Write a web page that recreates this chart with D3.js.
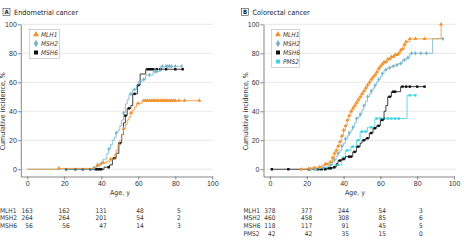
<!DOCTYPE html>
<html><head><meta charset="utf-8">
<script src="https://cdn.jsdelivr.net/npm/d3@7"></script>
<style>
body{margin:0;background:#fff;}
svg{display:block;font-family:"Liberation Sans Narrow","Arial Narrow","DejaVu Sans Condensed",sans-serif;}
</style></head><body>
<svg id="c" width="468" height="241"></svg>
<script>
// ---------- DATA ----------
const ageTicks = [0,20,40,60,80,100];
const pctTicks = [0,20,40,60,80,100];
const riskAges = [0,20,40,60,80];

// Panel A: Endometrial cancer
const endoGenes = ["MLH1","MSH2","MSH6"];
const endoMLH1 = [[0,0],[17,0.6],[36,1.5],[38,3],[40,4.5],[43,5.5],[45,7],[47,10],[48,13],[49,17],[50,20],[51,24],[52,28],[53,31],[54,34],[55,36],[56,39],[57,41],[58,43],[59,45.5],[62,47.3],[93,47.3]];
const endoMLH1Cens = [17,38,41,45,52,56,60,63,64,65,66,67,68,69,70,71,72,73,74,75,76,77,78,79,80,82,85,93];
const endoMSH2 = [[0,0],[35,0.8],[37,2],[39,4],[41,7],[43,11],[44,14],[45,17],[46,20],[47,22],[48,25],[49,27],[50,30],[51,34],[52,39],[53,45],[54,48],[55,52],[57,55],[59,58],[60,60.4],[62,62],[64,65],[68,67.5],[72,71],[83.5,71]];
const endoMSH2Cens = [36,40,44,48,52,56,58,61,63,66,69,70,73,75,76,77,78,80,83.5];
const endoMSH6 = [[21,0],[41.5,1.4],[44.5,3],[46,7.6],[48,11],[49.5,18],[51,24],[52,32],[53,37],[54,42],[56,44],[57,52],[59.5,58],[61,65.7],[64,69],[84,69]];
const endoMSH6Cens = [21,26,30,34,37,38,39,40,44,47,50,53,55,58,60,65,66,67,68,70,72,75,80,84];
const endoRiskMLH1 = [163,162,131,48,5];
const endoRiskMSH2 = [264,264,201,54,2];
const endoRiskMSH6 = [56,56,47,14,3];

// Panel B: Colorectal cancer
const crcGenes = ["MLH1","MSH2","MSH6","PMS2"];
const crcMLH1 = [[17,0],[20,0.5],[22,1],[25,1.5],[28,2.5],[30,3.5],[32,5],[34,8],[35,11],[36,13],[37,16],[38,19],[39,23],[40,27],[41,30],[42,34],[43,37],[44,40],[45,42],[46,44],[47,46],[48,48],[49,50],[50,52],[51,54],[52,56],[53,58],[54,60],[55,62],[56,63.5],[57,65],[58,67],[59,69.5],[60,71],[61,72.5],[62,74],[64,76],[66,77.5],[68,79],[70,80],[71,82],[72,83],[73,86],[74,88],[76,90],[93,100],[93,100]];
const crcMLH1Cens = [17,21,24,27,30,31,33,34,35,36,37,38,39,40,41,42,43,44,45,46,47,48,49,50,51,52,53,54,55,56,57,58,59,60,61,62,63,64,65,66,67,68,69,70,71,72,73,74,76,79,84,93];
const crcMSH2 = [[22,0],[26,0.5],[28,1],[30,1.5],[32,3],[34,5],[35,6.5],[36,9],[37,11],[38,13],[39,16],[40,18],[41,21],[42,23],[43,25],[44,27],[45,29],[46,32],[47,35],[48,36],[49,38],[50,41],[51,44],[52,47],[53,50],[54,52],[55,54],[56,56],[57,58],[58,60.4],[59,62],[60,64],[61,66],[62,68.7],[64,70],[66,71],[68,72],[70,73],[72,75.4],[74,77],[76,80],[88.4,90],[94,90]];
const crcMSH2Cens = [22,25,29,33,35,37,39,41,43,45,47,49,51,53,55,57,59,61,63,65,67,69,71,73,75,77,79,82,85,94];
const crcMSH6 = [[1,0],[31,0.7],[34,1.4],[36,4],[37,6],[39,7],[41,8.7],[45,12],[47,15.6],[49,18],[50,20],[52,21.4],[54,25],[56,28.3],[58,30],[60,34],[62,40],[63,44],[64,50],[66,53.5],[71,57],[84,57]];
const crcMSH6Cens = [1,10,21,26,28,30,32,33,35,38,40,43,44,46,48,51,53,55,57,59,61,65,67,68,72,74,76,80,84];
const crcPMS2 = [[23,0],[29,0.7],[35,3],[39,8],[41,13],[44,15.6],[47,20],[49,26],[53,29],[57,35],[74.5,51],[79,51]];
const crcPMS2Cens = [24,27,30,33,37,40,42,45,48,50,52,55,58,60,62,64,66,68,70,76,79];
const crcRiskMLH1 = [378,377,244,54,3];
const crcRiskMSH2 = [460,458,308,85,6];
const crcRiskMSH6 = [118,117,91,45,5];
const crcRiskPMS2 = [42,42,35,15,0];

// ---------- STYLE ----------
const colors = {MLH1:"#F0922E", MSH2:"#74B4C6", MSH6:"#111111", PMS2:"#3FD2E0"};
const symbols = {MLH1:d3.symbolTriangle, MSH2:d3.symbolDiamond, MSH6:d3.symbolSquare, PMS2:d3.symbolSquare};

const svg = d3.select("#c");

function valueAt(steps, age){
  let v = steps[0][1];
  for (const s of steps){ if (s[0] <= age) v = s[1]; else break; }
  return v;
}

function panel(opt){
  const g = svg.append("g");
  const x = d3.scaleLinear().domain([-3.5,100]).range([opt.x0, opt.x1]);
  const y = d3.scaleLinear().domain([-5,100]).range([176.5, 24.3]);
  // gridlines
  g.append("g").selectAll("line").data(pctTicks).join("line")
    .attr("x1", opt.x0).attr("x2", opt.gridEnd)
    .attr("y1", d=>y(d)).attr("y2", d=>y(d))
    .attr("stroke","#d6d6d6").attr("stroke-width",0.6);
  // axes
  const ax = g.append("g").attr("transform",`translate(0,${y(-5)})`)
    .call(d3.axisBottom(x).tickValues(ageTicks).tickSize(3).tickSizeOuter(0));
  const ay = g.append("g").attr("transform",`translate(${opt.x0},0)`)
    .call(d3.axisLeft(y).tickValues(pctTicks).tickSize(3).tickSizeOuter(0));
  [ax,ay].forEach(a=>{
    a.select(".domain").attr("stroke","#555").attr("stroke-width",0.7);
    a.selectAll(".tick line").attr("stroke","#555").attr("stroke-width",0.7);
    a.selectAll(".tick text").attr("fill","#333").attr("font-size",7).attr("font-family",null);
  });
  ax.selectAll(".tick text").attr("dy","0.9em").attr("y",3);
  ay.selectAll(".tick text").attr("x",-4);
  // axis titles
  g.append("text").attr("x",opt.ageX).attr("y",195).attr("text-anchor","middle")
    .attr("font-size",7).attr("fill","#333").text("Age, y");
  g.append("text").attr("transform",`translate(${opt.ylabX},${y(40)}) rotate(-90)`)
    .attr("text-anchor","middle").attr("font-size",7).attr("fill","#333")
    .text("Cumulative incidence, %");
  // panel title
  g.append("rect").attr("x",opt.boxX).attr("y",8.5).attr("width",7).attr("height",7)
    .attr("fill","#fff").attr("stroke","#444").attr("stroke-width",0.6);
  g.append("text").attr("x",opt.boxX+3.5).attr("y",14.3).attr("text-anchor","middle")
    .attr("font-size",6).attr("font-weight","bold").attr("fill","#222").text(opt.letter);
  g.append("text").attr("x",opt.boxX+11).attr("y",14.5).attr("font-size",7.3).attr("fill","#222").text(opt.title);
  // curves
  const line = d3.line().x(d=>x(d[0])).y(d=>y(d[1])).curve(d3.curveStepAfter);
  opt.series.slice().reverse().forEach(s=>{
    g.append("path").datum(s.steps).attr("d",line).attr("fill","none")
      .attr("stroke",colors[s.gene]).attr("stroke-width",0.8);
    g.append("g").selectAll("path").data(s.cens).join("path")
      .attr("transform",a=>`translate(${x(a)},${y(valueAt(s.steps,a))})`)
      .attr("d",d3.symbol().type(symbols[s.gene]).size(s.gene==="MLH1"?7:6))
      .attr("fill",colors[s.gene]);
  });
  // legend
  const n = opt.series.length;
  const lg = g.append("g");
  lg.append("rect").attr("x",opt.legX).attr("y",29.5).attr("width",opt.legW).attr("height",9*n+2)
    .attr("fill","#fff").attr("stroke","#aaa").attr("stroke-width",0.5);
  opt.series.forEach((s,i)=>{
    const yy = 34.5 + i*9;
    lg.append("path").attr("transform",`translate(${opt.legX+6.5},${yy})`)
      .attr("d",d3.symbol().type(symbols[s.gene]).size(16)).attr("fill",colors[s.gene]);
    lg.append("text").attr("x",opt.legX+11.5).attr("y",yy+2.3).attr("font-size",6.5)
      .attr("font-style","italic").attr("fill","#333").text(s.gene);
  });
  // numbers at risk
  opt.series.forEach((s,i)=>{
    const yy = 212.5 + i*7.7;
    g.append("text").attr("x",opt.riskLabX).attr("y",yy).attr("font-size",6.5).attr("fill","#333").text(s.gene);
    g.append("g").selectAll("text").data(s.risk).join("text")
      .attr("x",(d,j)=>x(riskAges[j])+5.5).attr("y",yy).attr("text-anchor","end")
      .attr("font-size",6.5).attr("fill","#333").text(d=>d);
  });
}

panel({x0:20.8, x1:212.3, gridEnd:212.5, ageX:120, ylabX:5, boxX:3, letter:"A", title:"Endometrial cancer",
  legX:29.5, legW:30, riskLabX:0,
  series:[
    {gene:"MLH1", steps:endoMLH1, cens:endoMLH1Cens, risk:endoRiskMLH1},
    {gene:"MSH2", steps:endoMSH2, cens:endoMSH2Cens, risk:endoRiskMSH2},
    {gene:"MSH6", steps:endoMSH6, cens:endoMSH6Cens, risk:endoRiskMSH6}
  ]});
panel({x0:263.5, x1:454, gridEnd:456, ageX:355, ylabX:248, boxX:241.5, letter:"B", title:"Colorectal cancer",
  legX:271.5, legW:28, riskLabX:243.5,
  series:[
    {gene:"MLH1", steps:crcMLH1, cens:crcMLH1Cens, risk:crcRiskMLH1},
    {gene:"MSH2", steps:crcMSH2, cens:crcMSH2Cens, risk:crcRiskMSH2},
    {gene:"MSH6", steps:crcMSH6, cens:crcMSH6Cens, risk:crcRiskMSH6},
    {gene:"PMS2", steps:crcPMS2, cens:crcPMS2Cens, risk:crcRiskPMS2}
  ]});
</script>
</body></html>
